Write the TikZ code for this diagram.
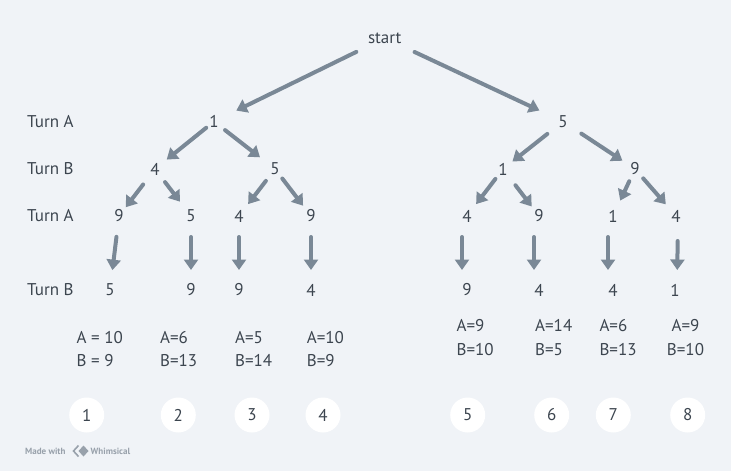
\documentclass[tikz,border=0pt]{standalone}
\usepackage{fontspec}
\setmainfont{PT Sans}
\usetikzlibrary{arrows.meta}
\definecolor{bgc}{HTML}{F0F3F7}
\definecolor{txtc}{HTML}{3C454F}
\definecolor{arrc}{HTML}{7A8896}
\definecolor{markc}{HTML}{98A1AB}
\begin{document}
\begin{tikzpicture}[x=1pt,y=-1pt,
  lbl/.style={inner sep=0pt, text=txtc, font=\fontsize{17}{20}\selectfont},
  turn/.style={lbl, anchor=west},
  score/.style={inner sep=0pt, text=txtc, font=\fontsize{17}{23.3}\selectfont, align=left, anchor=west},
  circ/.style={circle, fill=white, minimum size=35pt, inner sep=0pt, text=txtc, font=\fontsize{17}{20}\selectfont},
  arr/.style={draw=arrc, line width=4pt, line cap=round, -{Triangle[length=10.5pt,width=14pt]}},
  sh/.style 2 args={shorten <=#1pt, shorten >=#2pt}
]
\fill[bgc] (0,0) rectangle (731,471);
\useasboundingbox (0,0) rectangle (731,471);

% row labels
\node[turn] (tA1) at (27,121.5) {Turn A};
\node[turn] (tB1) at (27,169) {Turn B};
\node[turn] (tA2) at (27,216) {Turn A};
\node[turn] (tB2) at (27,290) {Turn B};

% tree nodes
\node[lbl] (s) at (384.7,38) {start};
\node[lbl] (n1a) at (214,121.5) {1};
\node[lbl] (n1b) at (563,121.5) {5};
\node[lbl] (n2a) at (155,169) {4};
\node[lbl] (n2b) at (275,169) {5};
\node[lbl] (n2c) at (503,169) {1};
\node[lbl] (n2d) at (635,169) {9};
\node[lbl] (n3a) at (119,216) {9};
\node[lbl] (n3b) at (191,216) {5};
\node[lbl] (n3c) at (239,216) {4};
\node[lbl] (n3d) at (311,216) {9};
\node[lbl] (n3e) at (467,216) {4};
\node[lbl] (n3f) at (539,216) {9};
\node[lbl] (n3g) at (613,216) {1};
\node[lbl] (n3h) at (676,216) {4};
\node[lbl] (n4a) at (110,290) {5};
\node[lbl] (n4b) at (191,290) {9};
\node[lbl] (n4c) at (239,290) {9};
\node[lbl] (n4d) at (311,290) {4};
\node[lbl] (n4e) at (467,290) {9};
\node[lbl] (n4f) at (539,290) {4};
\node[lbl] (n4g) at (613,290) {4};
\node[lbl] (n4h) at (675,290) {1};

% arrows
\draw[arr, sh={31.6}{24.8}] (s.center) -- (n1a.center);
\draw[arr, sh={33}{26}] (s.center) -- (n1b.center);
\draw[arr, sh={10}{15}] (n1a.center) -- (n2a.center);
\draw[arr, sh={14}{19}] (n1a.center) -- (n2b.center);
\draw[arr, sh={20}{12}] (n1b.center) -- (n2c.center);
\draw[arr, sh={22}{15}] (n1b.center) -- (n2d.center);
\draw[arr, sh={19.5}{11}] (n2a.center) -- (n3a.center);
\draw[arr, sh={16.5}{18}] (n2a.center) -- (n3b.center);
\draw[arr, sh={15}{15}] (n2b.center) -- (n3c.center);
\draw[arr, sh={12}{13}] (n2b.center) -- (n3d.center);
\draw[arr, sh={12.5}{15}] (n2c.center) -- (n3e.center);
\draw[arr, sh={20.5}{12}] (n2c.center) -- (n3f.center);
\draw[arr, sh={13.5}{17}] (n2d.center) -- (n3g.center);
\draw[arr, sh={12.5}{15.5}] (n2d.center) -- (n3h.center);
\draw[arr, sh={21}{20}] (n3a.center) -- (n4a.center);
\draw[arr, sh={21}{20}] (n3b.center) -- (n4b.center);
\draw[arr, sh={21}{20}] (n3c.center) -- (n4c.center);
\draw[arr, sh={21}{20}] (n3d.center) -- (n4d.center);
\draw[arr, sh={21}{20}] ([xshift=-5pt]n3e.center) -- ([xshift=-5pt]n4e.center);
\draw[arr, sh={21}{20}] ([xshift=-5pt]n3f.center) -- ([xshift=-5pt]n4f.center);
\draw[arr, sh={21}{20}] ([xshift=-5pt]n3g.center) -- ([xshift=-5pt]n4g.center);
\draw[arr, sh={25}{20}] ([xshift=2pt]n3h.center) -- ([xshift=2pt]n4h.center);

% scores
\node[score] (sc1) at (76.5,349.2) {A = 10\\B = 9};
\node[score] (sc2) at (160,349.2) {A=6\\B=13};
\node[score] (sc3) at (235,349.2) {A=5\\B=14};
\node[score] (sc4) at (306.7,349.2) {A=10\\B=9};
\node[score] (sc5) at (456.5,337.5) {A=9\\B=10};
\node[score] (sc6) at (535,337.5) {A=14\\B=5};
\node[score] (sc7) at (599.3,337.5) {A=6\\B=13};
\node[score, align=center, anchor=center] (sc8) at (685.5,337.5) {A=9\\B=10};

% outcome circles
\node[circ] (c1) at (86.7,415) {1};
\node[circ] (c2) at (178.3,415) {2};
\node[circ] (c3) at (252,415) {3};
\node[circ] (c4) at (323,415) {4};
\node[circ] (c5) at (467.7,415) {5};
\node[circ] (c6) at (551.7,415) {6};
\node[circ] (c7) at (613.3,415) {7};
\node[circ] (c8) at (687.7,415) {8};

% watermark
\node[inner sep=0pt, anchor=west, text=markc, font=\bfseries\fontsize{9}{10}\selectfont] (mw) at (25,451.5) {Made with};
\draw[markc, line width=1.6pt, line join=miter] (78.5,445.5) -- (73.5,451) -- (78.5,456.5);
\fill[markc] (83.5,445.5) -- (88.5,451) -- (83.5,456.5) -- (78.5,451) -- cycle;
\node[inner sep=0pt, anchor=west, text=markc, font=\bfseries\fontsize{9}{10}\selectfont] (wh) at (90.5,451.5) {Whimsical};
\end{tikzpicture}
\end{document}
